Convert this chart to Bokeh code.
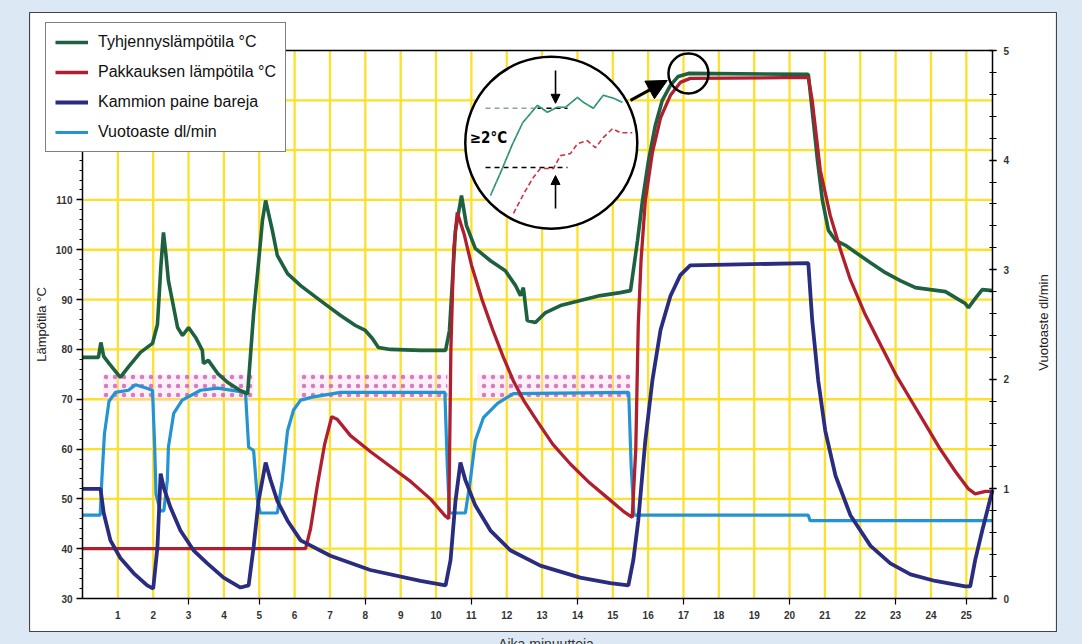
import math
from bokeh.plotting import figure
from bokeh.models import (Range1d, LinearAxis, FixedTicker, Legend, LegendItem,
                          Arrow, NormalHead, Spacer, Div, Label)
from bokeh.layouts import column, row
from bokeh.core.properties import value
from bokeh.embed import file_html
from bokeh.resources import INLINE

# ---------------- data (minutes / deg C / dl/min) ----------------
green_t = [0.00, 0.45, 0.52, 0.60, 0.75, 1.07, 1.30, 1.64, 1.98, 2.12, 2.22, 2.29, 2.36, 2.43,
           2.69, 2.83, 3.00, 3.20, 3.39, 3.42, 3.56, 3.82, 4.10, 4.47, 4.67, 4.84, 4.95, 5.09,
           5.18, 5.37, 5.51, 5.80, 6.17, 6.73, 7.30, 7.72, 8.00, 8.20, 8.37, 8.71, 9.56, 10.27,
           10.38, 10.55, 10.72, 10.86, 11.11, 11.54, 11.96, 12.25, 12.39, 12.47, 12.58, 12.81,
           13.10, 13.52, 14.08, 14.65, 15.21, 15.50, 15.58, 15.70, 15.84, 16.01, 16.20, 16.40,
           16.63, 16.85, 17.14, 20.53, 20.64, 20.79, 20.93, 21.10, 21.30, 21.58, 21.86, 22.29,
           22.71, 23.13, 23.56, 23.98, 24.41, 24.69, 24.97, 25.06, 25.25, 25.45, 25.74]
green_v = [78.4, 78.4, 81.4, 78.6, 77.2, 74.4, 76.5, 79.4, 81.2, 85.0, 97.0, 103.5, 99.0, 93.8,
           84.4, 82.8, 84.4, 82.4, 79.8, 77.2, 77.8, 75.2, 73.4, 71.7, 71.1, 87.2, 95.2, 105.9,
           109.9, 103.9, 98.9, 95.2, 92.8, 89.8, 86.8, 84.8, 83.8, 82.2, 80.4, 80.0, 79.8, 79.8,
           83.8, 103.9, 110.9, 104.9, 100.3, 97.8, 95.8, 92.8, 90.8, 92.4, 85.8, 85.4,
           87.4, 88.8, 89.8, 90.8, 91.4, 91.8, 95.8, 101.9, 109.9, 117.9, 124.9, 130.0,
           133.0, 134.8, 135.4, 135.2, 128.0, 117.9, 109.9, 103.9, 101.9, 100.9, 99.5, 97.4,
           95.4, 93.8, 92.4, 92.0, 91.6, 90.4, 89.2, 88.4, 90.2, 92.0, 91.8]

red_t = [0.00, 6.31, 6.45, 6.65, 6.85, 7.05, 7.20, 7.58, 8.14, 8.71, 9.28, 9.84, 10.27, 10.36,
         10.42, 10.50, 10.60, 10.80, 11.00, 11.30, 11.60, 11.90, 12.20, 12.50, 12.87, 13.30,
         13.80, 14.30, 14.80, 15.30, 15.55, 15.65, 15.72, 15.80, 15.92, 16.12, 16.35, 16.63,
         16.91, 17.19, 20.53, 20.64, 20.87, 21.15, 21.44, 21.72, 22.14, 22.57, 23.00, 23.42,
         23.84, 24.26, 24.69, 25.06, 25.25, 25.54, 25.74]
red_v = [40.0, 40.0, 44.0, 53.0, 61.0, 66.5, 66.0, 62.7, 59.5, 56.5, 53.5, 50.0, 46.5, 46.0,
         80.0, 100.0, 107.5, 103.0, 97.0, 90.0, 84.0, 78.5, 73.5, 69.5, 65.5, 61.0,
         57.0, 53.5, 50.5, 47.5, 46.3, 60.0, 85.0, 98.0, 109.9, 119.5, 126.5, 131.0,
         133.6, 134.4, 134.6, 130.0, 115.9, 106.9, 100.0, 94.0, 87.0, 81.0, 75.0, 70.0,
         65.0, 60.0, 55.5, 52.0, 51.0, 51.5, 51.5]

pressure_t = [0.00, 0.51, 0.60, 0.79, 1.07, 1.45, 1.83, 2.00, 2.12, 2.21, 2.30, 2.49, 2.77, 3.14,
              3.53, 3.99, 4.47, 4.70, 4.84, 4.98, 5.18, 5.32, 5.51, 5.80, 6.17, 7.01, 8.14, 9.56,
              10.27, 10.41, 10.55, 10.69, 10.83, 11.11, 11.54, 12.10, 12.95, 14.08, 14.93, 15.44,
              15.58, 15.72, 15.92, 16.12, 16.35, 16.63, 16.91, 17.19, 20.53, 20.64, 20.81, 21.01,
              21.30, 21.72, 22.29, 22.85, 23.42, 24.12, 24.97, 25.11, 25.25, 25.45, 25.74]
pressure_v = [1.00, 1.00, 0.78, 0.53, 0.37, 0.23, 0.12, 0.09, 0.47, 1.14, 1.01, 0.83, 0.62, 0.44,
              0.32, 0.19, 0.10, 0.12, 0.47, 0.89, 1.24, 1.08, 0.89, 0.71, 0.53, 0.39, 0.26, 0.16,
              0.12, 0.35, 0.89, 1.24, 1.08, 0.85, 0.62, 0.44, 0.30, 0.19, 0.14, 0.12,
              0.35, 0.71, 1.44, 1.99, 2.45, 2.76, 2.95, 3.04, 3.06, 2.54, 1.99, 1.53,
              1.12, 0.76, 0.48, 0.32, 0.22, 0.16, 0.11, 0.11, 0.35, 0.62, 0.99]

leak_t = [0.00, 0.50, 0.55, 0.62, 0.75, 0.93, 1.30, 1.50, 1.80, 1.98, 2.04, 2.08, 2.20, 2.30,
          2.40, 2.43, 2.58, 2.82, 3.34, 3.82, 4.61, 4.70, 4.84, 4.95, 5.03, 5.51, 5.65, 5.80,
          5.97, 6.17, 6.53, 7.30, 10.25, 10.32, 10.38, 10.83, 10.97, 11.11, 11.34, 11.74, 12.19,
          15.45, 15.52, 15.60, 20.53, 20.58, 25.74]
leak_v = [0.76, 0.76, 1.10, 1.50, 1.80, 1.88, 1.90, 1.95, 1.92, 1.90, 1.40, 0.95, 0.80, 0.80,
          1.08, 1.38, 1.69, 1.81, 1.90, 1.92, 1.88, 1.38, 1.35, 0.89, 0.78, 0.78, 1.08, 1.53,
          1.72, 1.81, 1.84, 1.88, 1.88, 1.20, 0.78, 0.78, 1.08, 1.44, 1.65, 1.78, 1.87,
          1.88, 1.20, 0.76, 0.76, 0.71, 0.71]

band_start = [0.57, 6.08, 11.17]
band_end = [4.84, 10.32, 15.50]
band_low = [69.6, 69.6, 69.6]
band_high = [75.0, 75.0, 75.0]

x_ticks = list(range(1, 26))
x_tick_marks = [3, 5, 8, 11, 14, 17, 20, 23, 25]
left_ticks = [30, 40, 50, 60, 70, 80, 90, 100, 110]
left_grid = [40, 50, 60, 70, 80, 90, 100, 110, 120, 130]
right_ticks = [0, 1, 2, 3, 4, 5]

x_min, x_max = 0.0, 25.74          # time axis extent (minutes)
t_min, t_max = 30.0, 140.0         # temperature axis extent
r_min, r_max = 0.0, 5.0            # right axis extent

# inset (magnified detail)
zoom_circle_x, zoom_circle_y = [13.26], [121.5]
spot_circle_x, spot_circle_y = [17.14], [135.4]
inset_green_t = [11.54, 11.85, 12.15, 12.45, 12.87, 13.15, 13.43, 13.66, 14.00, 14.17, 14.45,
                 14.73, 15.02, 15.27]
inset_green_v = [110.9, 115.9, 121.0, 125.5, 129.0, 127.6, 128.6, 128.6, 130.6, 129.6, 128.4,
                 131.0, 130.4, 129.6]
inset_red_t = [12.19, 12.50, 12.75, 12.95, 13.32, 13.52, 13.80, 14.00, 14.28, 14.51, 14.73,
               14.99, 15.21, 15.55]
inset_red_v = [107.3, 111.5, 114.5, 116.3, 116.3, 118.9, 119.3, 121.3, 121.9, 120.5, 122.5,
               124.3, 123.5, 123.5]
inset_upper_y = 128.4
inset_lower_y = 116.5
inset_dash_x = [11.40, 12.87, 13.72]
inset_arrow_x = 13.38
inset_arrow_down = (136.0, 129.4)
inset_arrow_up = (108.3, 114.9)
big_arrow = (15.50, 130.0, 16.54, 134.0)
inset_label = "\u22652\u00b0C"
inset_label_pos = (11.48, 122.5)

# ---------------- geometry of the white card ----------------
CARD_W, CARD_H = 1028, 620
PLOT_L, PLOT_R, PLOT_T, PLOT_B = 53, 963, 38, 586   # plot area inside the card (px)
sx = (PLOT_R - PLOT_L) / (x_max - x_min)
sy = (PLOT_B - PLOT_T) / (t_max - t_min)
sr = (PLOT_B - PLOT_T) / (r_max - r_min)
xr = Range1d(x_min - PLOT_L / sx, x_max + (CARD_W - PLOT_R) / sx)
yr = Range1d(t_min - (CARD_H - PLOT_B) / sy, t_max + PLOT_T / sy)
rr = Range1d(r_min - (CARD_H - PLOT_B) / sr, r_max + PLOT_T / sr)

# ---------------- styling ----------------
GRID = "#fde02c"
GREEN = "#1d6140"
RED = "#b01f2e"
NAVY = "#2a2c80"
CYAN = "#2393d2"
FONT = "Liberation Sans, Arial, sans-serif"
NARROW = "Liberation Sans Narrow, DejaVu Sans Condensed, Liberation Sans, sans-serif"

p = figure(width=CARD_W, height=CARD_H, x_range=xr, y_range=yr,
           output_backend="svg", toolbar_location=None,
           min_border=0, min_border_left=0, min_border_right=0,
           min_border_top=0, min_border_bottom=0,
           background_fill_color="white", border_fill_color="white",
           outline_line_color="#444444", outline_line_width=1.2,
           x_axis_location=None, y_axis_location=None)
p.xgrid.visible = False
p.ygrid.visible = False
p.extra_y_ranges = {"r": rr}

# yellow grid (limited to the plot area)
p.segment(x0=x_ticks, x1=x_ticks, y0=[t_min] * len(x_ticks), y1=[t_max] * len(x_ticks),
          line_color=GRID, line_width=2.3, level="underlay")
p.segment(x0=[x_min] * len(left_grid), x1=[x_max] * len(left_grid), y0=left_grid, y1=left_grid,
          line_color=GRID, line_width=2.3, level="underlay")


def style_ticks(ax):
    ax.major_label_text_font = FONT
    ax.major_label_text_font_style = "bold"
    ax.major_label_text_font_size = "10px"
    ax.major_label_text_color = "#333333"
    ax.axis_line_color = "black"
    ax.axis_line_width = 1.5
    ax.major_tick_line_color = "black"
    ax.minor_tick_line_color = "black"
    ax.major_tick_line_width = 1.3
    ax.minor_tick_line_width = 1.2


# bottom axis
xa = LinearAxis(fixed_location=t_min, bounds=(x_min, x_max),
                ticker=FixedTicker(ticks=x_ticks, minor_ticks=x_tick_marks))
style_ticks(xa)
xa.major_tick_out = 0
xa.major_tick_in = 0
xa.minor_tick_out = 6
xa.minor_tick_in = 0
xa.major_label_standoff = 6
p.add_layout(xa, "below")

# top frame line
ta = LinearAxis(fixed_location=t_max, bounds=(x_min, x_max), ticker=FixedTicker(ticks=[]))
style_ticks(ta)
ta.major_tick_out = 0
ta.minor_tick_out = 0
ta.major_label_text_font_size = "0px"
p.add_layout(ta, "above")

# left axis
ya = LinearAxis(fixed_location=x_min, bounds=(t_min, t_max),
                ticker=FixedTicker(ticks=left_ticks, minor_ticks=list(range(30, 140, 2))))
style_ticks(ya)
ya.major_tick_out = 6
ya.major_tick_in = 0
ya.minor_tick_out = 3
ya.minor_tick_in = 0
ya.major_label_standoff = 4
ya.axis_label = "L\u00e4mp\u00f6tila \u00b0C"
ya.axis_label_text_font = FONT
ya.axis_label_text_font_style = "normal"
ya.axis_label_text_font_size = "13px"
ya.axis_label_text_color = "#222222"
ya.axis_label_standoff = 4
p.add_layout(ya, "left")

# right axis
ra = LinearAxis(y_range_name="r", fixed_location=x_max, bounds=(r_min, r_max),
                ticker=FixedTicker(ticks=right_ticks, minor_ticks=[i / 5 for i in range(26)]))
style_ticks(ra)
ra.major_tick_out = 4
ra.major_tick_in = 3
ra.minor_tick_out = 4
ra.minor_tick_in = 3
ra.major_label_standoff = 7
p.add_layout(ra, "right")

# right axis title, reading bottom-to-top like the left one
p.add_layout(Label(x=CARD_W - 14, y=CARD_H - 310, x_units="screen", y_units="screen",
                   text="Vuotoaste dl/min", angle=math.pi / 2,
                   text_font=FONT, text_font_size="13px", text_color="#222222",
                   text_align="center", text_baseline="middle"))

# pink tolerance bands
p.quad(left=band_start, right=band_end, bottom=band_low, top=band_high,
       fill_color="#f5d0ea", fill_alpha=0.35, line_alpha=0,
       hatch_pattern="dot", hatch_color="#c64aa6", hatch_scale=9, hatch_weight=3,
       hatch_alpha=0.7)

# series
r_leak = p.line(leak_t, leak_v, y_range_name="r", line_color=CYAN, line_width=3.2)
r_green = p.line(green_t, green_v, line_color=GREEN, line_width=3.6)
r_red = p.line(red_t, red_v, line_color=RED, line_width=3.3)
r_press = p.line(pressure_t, pressure_v, y_range_name="r", line_color=NAVY, line_width=3.8)

# inset magnifier
p.scatter(zoom_circle_x, zoom_circle_y, marker="circle", size=172, fill_color="white",
          line_color="black", line_width=2.5)
p.scatter(spot_circle_x, spot_circle_y, marker="circle", size=40, fill_alpha=0,
          line_color="black", line_width=2.5)
p.line([inset_dash_x[0], inset_dash_x[1]], [inset_upper_y, inset_upper_y],
       line_color="#8aa88f", line_width=1.6, line_dash="5 4")
p.line([inset_dash_x[1], inset_dash_x[2]], [inset_upper_y, inset_upper_y],
       line_color="black", line_width=1.6, line_dash="5 4")
p.line([inset_dash_x[0], inset_dash_x[2]], [inset_lower_y, inset_lower_y],
       line_color="black", line_width=1.6, line_dash="5 4")
p.line(inset_green_t, inset_green_v, line_color="#2f8f4a", line_width=1.6)
p.line(inset_green_t, inset_green_v, line_color="#3aa3dc", line_width=1.2, line_dash="3 4")
p.line(inset_red_t, inset_red_v, line_color="#d2323f", line_width=1.6, line_dash="5 3")
p.text(x=[inset_label_pos[0]], y=[inset_label_pos[1]], text=[inset_label],
       text_font=value(NARROW), text_font_style="bold", text_font_size="15px",
       text_align="center", text_baseline="middle", text_color="black")
p.add_layout(Arrow(end=NormalHead(size=9, fill_color="black", line_color="black"),
                   x_start=inset_arrow_x, y_start=inset_arrow_down[0],
                   x_end=inset_arrow_x, y_end=inset_arrow_down[1],
                   line_color="black", line_width=1.6))
p.add_layout(Arrow(end=NormalHead(size=9, fill_color="black", line_color="black"),
                   x_start=inset_arrow_x, y_start=inset_arrow_up[0],
                   x_end=inset_arrow_x, y_end=inset_arrow_up[1],
                   line_color="black", line_width=1.6))
p.add_layout(Arrow(end=NormalHead(size=20, fill_color="black", line_color="black"),
                   x_start=big_arrow[0], y_start=big_arrow[1],
                   x_end=big_arrow[2], y_end=big_arrow[3],
                   line_color="black", line_width=3))

# legend
legend = Legend(items=[
    LegendItem(label="Tyhjennysl\u00e4mp\u00f6tila \u00b0C", renderers=[r_green]),
    LegendItem(label="Pakkauksen l\u00e4mp\u00f6tila \u00b0C", renderers=[r_red]),
    LegendItem(label="Kammion paine bareja", renderers=[r_press]),
    LegendItem(label="Vuotoaste dl/min", renderers=[r_leak]),
], location=(16, 480))
legend.border_line_color = "black"
legend.border_line_width = 1.5
legend.background_fill_color = "white"
legend.background_fill_alpha = 1.0
legend.padding = 9
legend.spacing = 10
legend.margin = 0
legend.glyph_width = 33
legend.glyph_height = 20
legend.label_height = 20
legend.label_standoff = 10
legend.label_text_font = FONT
legend.label_text_font_size = "16px"
legend.label_text_color = "#111111"
p.add_layout(legend)

xlabel = Div(text='<div style="font-family: Liberation Sans, Arial, sans-serif; font-size:14px; '
                  'line-height:14px; color:#333; text-align:center; padding-top:0px; '
                  'margin-top:0px; width:1082px;">Aika minuutteja</div>', width=1082, height=20)

layout = column(Spacer(width=1082, height=12),
                row(Spacer(width=29, height=CARD_H), p),
                xlabel)

html = file_html(layout, INLINE, title="Chart")
html = html.replace("</head>",
                    "<style>html, body {margin:0 !important; padding:0 !important; "
                    "background:#dce8f4 !important; overflow:hidden !important;}</style>\n</head>", 1)
open("out.html", "w").write(html)
